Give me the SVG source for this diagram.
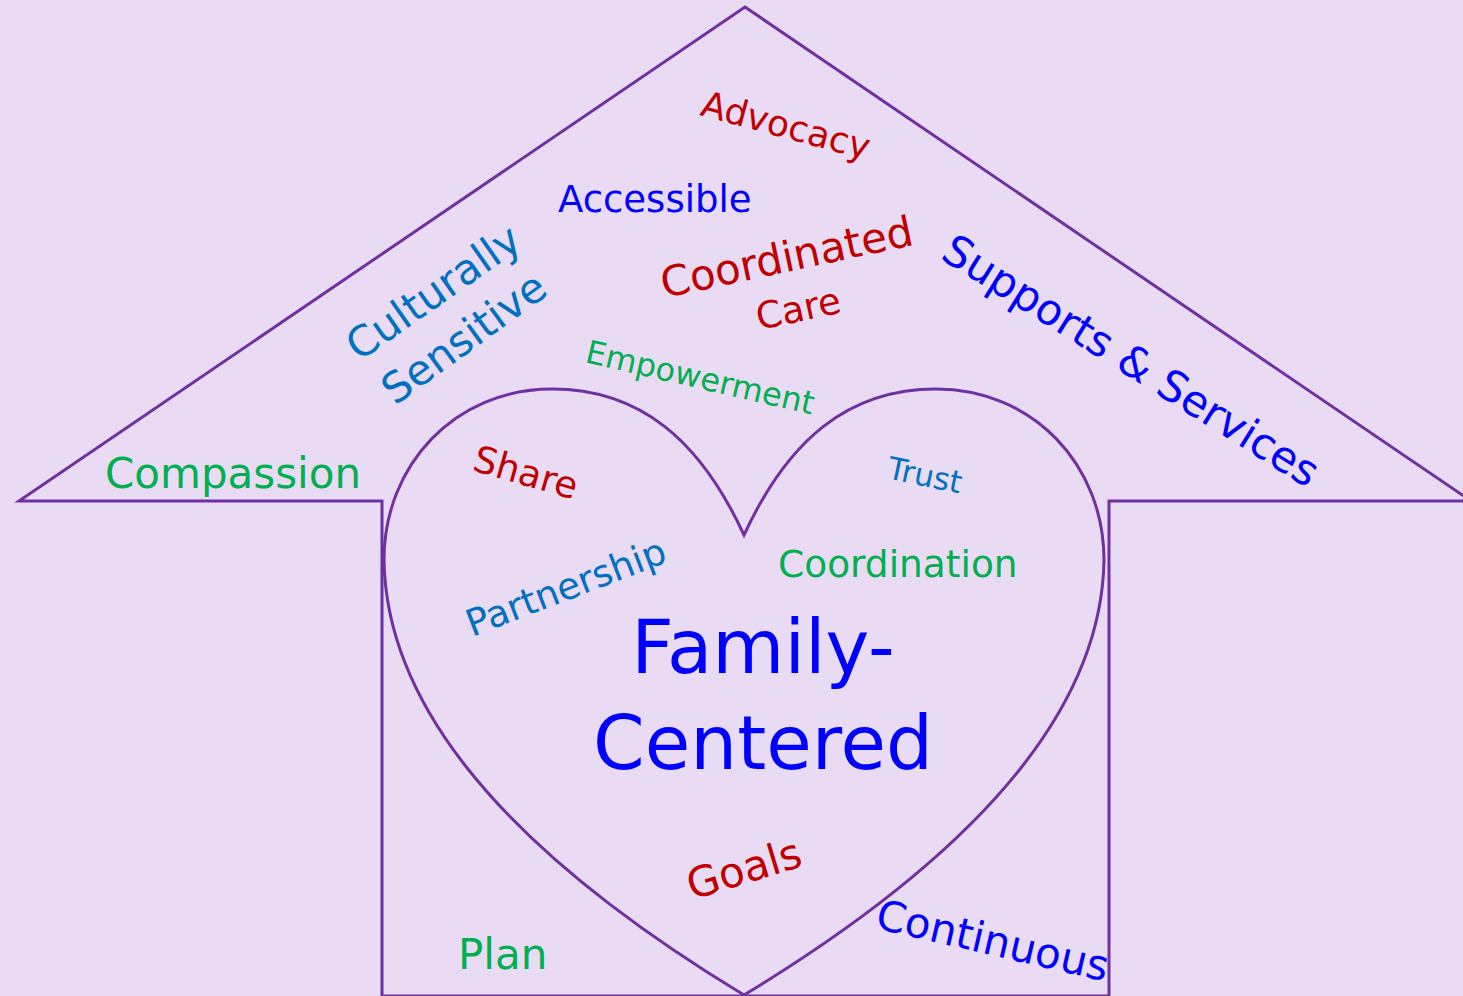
<svg xmlns="http://www.w3.org/2000/svg" width="1463" height="996" viewBox="0 0 1463 996">
<style>
text{font-family:"DejaVu Sans","Liberation Sans",sans-serif}
.shape{fill:none;stroke:#7030A0;stroke-width:3;stroke-linejoin:miter}
.red{fill:#C00000}.blue{fill:#0000FF}.green{fill:#00B050}.teal{fill:#0070C0}
</style>
<rect width="1463" height="996" fill="#EADBF4"/>
<g id="house"><path class="shape" d="M745,7 L1471,501 L1109,501 L1109,996 L382,996 L382,501 L19,501 Z"/></g>
<g id="heart"><path class="shape" d="M744,535 C700,440 640,389 552,389 C455,389 384,465 384,560 C386,690 480,835 744,995 C1008,835 1102,690 1104,560 C1104,465 1033,389 936,389 C848,389 788,440 744,535 Z"/></g>
<g id="labels">
<text id="advocacy" class="red" font-size="36" transform="translate(699,115) rotate(15)">Advocacy</text>
<text id="accessible" class="blue" font-size="37" x="558" y="212">Accessible</text>
<text id="culturally" class="teal" font-size="42" transform="translate(359,362) rotate(-35)">Culturally</text>
<text id="sensitive" class="teal" font-size="42" transform="translate(395,406) rotate(-36)">Sensitive</text>
<text id="coordinated" class="red" font-size="42" transform="translate(664,298) rotate(-12)">Coordinated</text>
<text id="care" class="red" font-size="37" transform="translate(759,330) rotate(-12)">Care</text>
<text id="supports" class="blue" font-size="43" transform="translate(939,258) rotate(32)">Supports &amp; Services</text>
<text id="empowerment" class="green" font-size="32" transform="translate(584,362) rotate(13)">Empowerment</text>
<text id="compassion" class="green" font-size="42" x="105" y="488">Compassion</text>
<text id="share" class="red" font-size="37" transform="translate(471,470) rotate(16)">Share</text>
<text id="trust" class="teal" font-size="31" transform="translate(886,478) rotate(12)">Trust</text>
<text id="partnership" class="teal" font-size="37" transform="translate(472,637) rotate(-21)">Partnership</text>
<text id="coordination" class="green" font-size="37.5" x="778" y="577">Coordination</text>
<text id="family" class="blue" font-size="74" text-anchor="middle"><tspan x="763" y="673">Family-</tspan><tspan x="763" y="769">Centered</tspan></text>
<text id="goals" class="red" font-size="42" transform="translate(692,900) rotate(-17)">Goals</text>
<text id="plan" class="green" font-size="42" x="458" y="969">Plan</text>
<text id="continuous" class="blue" font-size="42" transform="translate(874,928) rotate(13)">Continuous</text>
</g>
</svg>
